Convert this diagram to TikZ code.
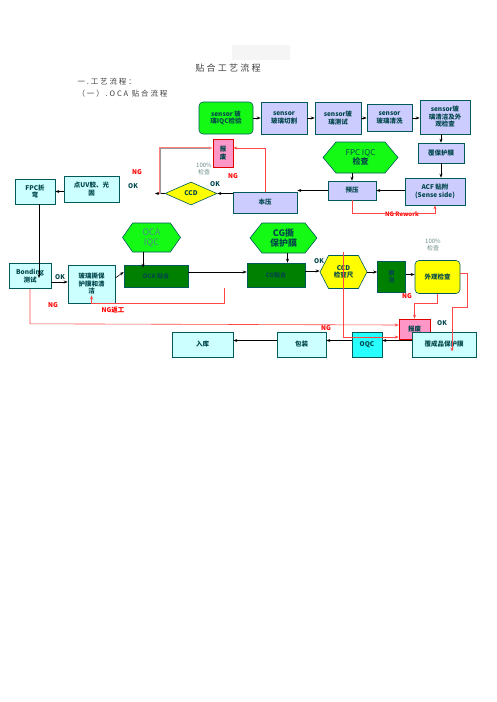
\documentclass[tikz,border=0pt]{standalone}
\usepackage{fontspec}
\setmainfont{Noto Sans CJK SC}
\newfontfamily\titlefont{Noto Sans CJK SC}[LetterSpace=25]
\usetikzlibrary{positioning, shapes.geometric, shapes.symbols, arrows.meta, calc}
\definecolor{lavc}{RGB}{204,204,255}
\definecolor{cync}{RGB}{204,255,255}
\definecolor{oqcc}{RGB}{40,255,255}
\definecolor{grnc}{RGB}{20,250,20}
\definecolor{dgrnc}{RGB}{0,128,0}
\definecolor{yelc}{RGB}{255,255,0}
\definecolor{pinkc}{RGB}{255,150,200}
\definecolor{edgec}{RGB}{0,90,90}
\definecolor{txtc}{RGB}{0,70,75}
\definecolor{ngc}{RGB}{255,70,70}
\definecolor{pctc}{RGB}{110,140,140}

\begin{document}
\begin{tikzpicture}[
  x=1pt, y=-1pt,
  font=\fontsize{6.5}{7.5}\selectfont\bfseries,
  box/.style={draw=edgec, semithick, text=txtc, align=center, inner sep=0.5pt},
  sz/.style 2 args={minimum width=#1pt, minimum height=#2pt},
  lav/.style={box, fill=lavc},
  cyn/.style={box, fill=cync},
  grnbox/.style={box, fill=grnc, rounded corners=4pt},
  dgrn/.style={box, fill=dgrnc, font=\fontsize{6}{7}\selectfont\bfseries},
  hexa/.style={box, shape=signal, signal to=east and west, fill=grnc},
  hexy/.style={hexa, fill=yelc},
  scrap/.style={box, draw=red!90!black, fill=pinkc},
  arr/.style={-{Stealth[length=4pt, width=3pt]}, semithick, draw=black},
  ngline/.style={-{Stealth[length=4pt, width=3pt]}, semithick, draw=ngc},
  okl/.style={text=txtc},
  ngl/.style={text=red},
  pct/.style={text=pctc, font=\fontsize{6}{7}\selectfont, align=center},
]
\useasboundingbox (0,0) rectangle (496,702);
\fill[gray!8] (232,45) rectangle (290,60);

\node[font=\titlefont\fontsize{9}{10}\selectfont, text=black!75] (title) at (228,68) {贴合工艺流程};
\node[anchor=west, font=\titlefont\fontsize{7.5}{8}\selectfont, text=black!75] (head1) at (74,82) {一.工艺流程：};
\node[anchor=west, font=\titlefont\fontsize{7.5}{8}\selectfont, text=black!75] (head2) at (74,94) {（一）.OCA 贴合流程};

% sensor line
\node[grnbox, sz={54}{32}] (iqc) at (226,118) {sensor 玻\\璃IQC检验};
\node[lav, sz={46}{32}] (cut) at (284,118) {sensor\\玻璃切割};
\node[lav, sz={46}{32}] (test) at (338,118) {sensor玻\\璃测试};
\node[lav, sz={45}{27}] (wash) at (389.5,118) {sensor\\玻璃清洗};
\node[lav, sz={50}{34}] (clean) at (445,117) {sensor玻\\璃清洁及外\\观检查};
\node[lav, sz={46}{20}] (film) at (441,153) {覆保护膜};
\node[hexa, sz={75}{31}, signal pointer angle=100, font=\fontsize{8}{9.5}\selectfont] (fpciqc) at (360.5,157.5) {FPC IQC\\\bfseries 检查};
\node[lav, sz={60}{27}] (acf) at (435,191.5) {ACF 贴附\\(Sense side)};
\node[lav, sz={48}{19}] (pre) at (352,190.5) {预压};
\node[lav, sz={64}{21}] (press) at (265,202.5) {本压};
\node[scrap, sz={20}{28}] (scrapa) at (223,153) {报\\废};
\node[box, shape=diamond, fill=yelc, sz={52}{23}, inner sep=0pt] (ccd) at (191,193.5) {CCD};
\node[pct] (pcta) at (204,168.5) {100\%\\检查};
\node[cyn, sz={55}{26}] (uv) at (91.5,189) {点UV胶、光\\固};
\node[cyn, sz={40}{25}] (fpcb) at (35,191.5) {FPC折\\弯};

% lamination line
\node[cyn, sz={42}{25}] (bond) at (30,276) {Bonding\\测试};
\node[cyn, sz={47}{38}] (peel) at (91.5,284) {玻璃撕保\\护膜和清\\洁};
\node[dgrn, sz={64}{22}] (oca) at (156,276) {OCA 贴合};
\node[hexa, sz={58}{29}, signal pointer angle=110, font=\fontsize{9}{10}\selectfont, text=edgec!70] (ocaiqc) at (151.5,237.5) {OCA\\IQC};
\node[hexa, sz={67}{30}, signal pointer angle=103, font=\fontsize{9}{10}\selectfont\bfseries] (cgfilm) at (283.5,238) {CG撕\\保护膜};
\node[dgrn, sz={58}{24}] (cg) at (276,275) {CG贴合};
\node[hexy, sz={47}{33}, signal pointer angle=125] (ccdr) at (343.5,272) {CCD\\检查尺};
\node[dgrn, sz={28}{31}] (defoam) at (391.5,276.5) {脱\\泡};
\node[box, fill=yelc, rounded corners=4pt, sz={45}{33}] (look) at (437.5,277) {外观检查};
\node[pct] (pctb) at (433,244.5) {100\%\\检查};
\node[scrap, sz={31}{20}] (scrapb) at (414.5,329) {报废};
\node[cyn, sz={64}{25}] (final) at (444,344.5) {覆成品保护膜};
\node[box, fill=oqcc, sz={30}{25}] (oqc) at (367,344.5) {OQC};
\node[cyn, sz={49}{25}] (pack) at (301.5,344.5) {包装};
\node[cyn, sz={61}{25}] (store) at (202.5,344.5) {入库};

% labels
\node[ngl] (nga) at (137,172) {NG};
\node[okl] (oka) at (133,186) {OK};
\node[ngl] (ngb) at (233,176) {NG};
\node[okl] (okb) at (215,184) {OK};
\node[ngl, font=\fontsize{6}{7}\selectfont\bfseries] (ngrw) at (402,214) {NG Rework};
\node[okl] (okc) at (60,277) {OK};
\node[ngl] (ngc) at (53,305) {NG};
\node[ngl] (ngd) at (113,310) {NG返工};
\node[okl] (okd) at (319,261) {OK};
\node[ngl] (nge) at (407,296) {NG};
\node[ngl] (ngf) at (326,328) {NG};
\node[okl] (oke) at (442,323) {OK};

\coordinate (okend) at (155,193.5);
\coordinate (ngjoin) at (160,193.5);
\coordinate (ocang) at (224,288);
\coordinate (ccdng) at (343,252);

\draw[arr] (iqc) -- (cut);
\draw[arr] (cut) -- (test);
\draw[arr] (test) -- (wash);
\draw[arr] (wash) -- (wash -| clean.west);
\draw[arr] (clean.south -| film.north) -- (film.north);
\draw[arr] (film.south) -- (film.south |- acf.north);
\draw[arr] (fpciqc.south -| pre.north) -- (pre.north);
\draw[arr] (acf.west |- pre.east) -- (pre.east);
\draw[arr] (pre.west) -- (pre.west -| press.east);
\draw[ngline] (pre.south) -- ++(0,13) -| (acf.south);
\draw[arr] (press.west |- ccd.east) -- (ccd.east);
\draw[ngline] (press.north) |- ([yshift=5pt]scrapa.east);
\draw[arr] (ccd.west) -- (okend);
\draw[ngline, draw=ngc!70, double=gray!80, double distance=0.6pt] (ngjoin) |- ([yshift=5pt]scrapa.west);
\draw[arr] (uv.west |- fpcb.east) -- (fpcb.east);
\draw[arr] ([xshift=4pt]fpcb.south) -- ([xshift=9pt, yshift=-2pt]bond.center);
\draw[arr] ([yshift=-6pt]bond.east) -- ([yshift=-6pt]bond.east -| peel.west);
\draw[arr] ([yshift=6pt]peel.east) -- ([yshift=4pt]oca.west);
\draw[arr] ([xshift=-8.5pt]ocaiqc.south) -- ([xshift=-13pt, yshift=-3pt]oca.north);
\draw[arr] ([yshift=4pt]oca.east) -- ([yshift=4pt]oca.east -| cg.west);
\draw[arr] ([xshift=4pt]cgfilm.south) -- ([xshift=4pt]cgfilm.south |- cg.north);
\draw[arr] ([yshift=4pt]cg.east) -- ([yshift=4pt]cg.east -| ccdr.west);
\draw[arr] (ccdr.east) -- (ccdr.east -| defoam.west);
\draw[arr] ([yshift=2pt]defoam.east) -- ([yshift=2pt]defoam.east -| look.west);
\draw[ngline] (look.south) -- ++(0,9) -| (scrapb.north);
\draw[ngline] ([yshift=4pt]look.east) -- ++(7,0) -- ++(0,34) -| ([xshift=8pt, yshift=-7pt]final.center);
\draw[ngline] (bond.south) -- ++(0,35) -- ([yshift=4pt]scrapb.west);
\draw[ngline] (ccdng) |- ([yshift=-8pt]scrapb.west);
\draw[ngline] (ocang) |- (peel.south) -- ++(0,-8);
\draw[arr] ([yshift=4pt]final.west) -- ([yshift=4pt]oqc.east);
\draw[arr] ([yshift=4pt]oqc.west) -- ([yshift=4pt]pack.east);
\draw[arr] ([yshift=4pt]pack.west) -- ([yshift=4pt]store.east);
\end{tikzpicture}
\end{document}
